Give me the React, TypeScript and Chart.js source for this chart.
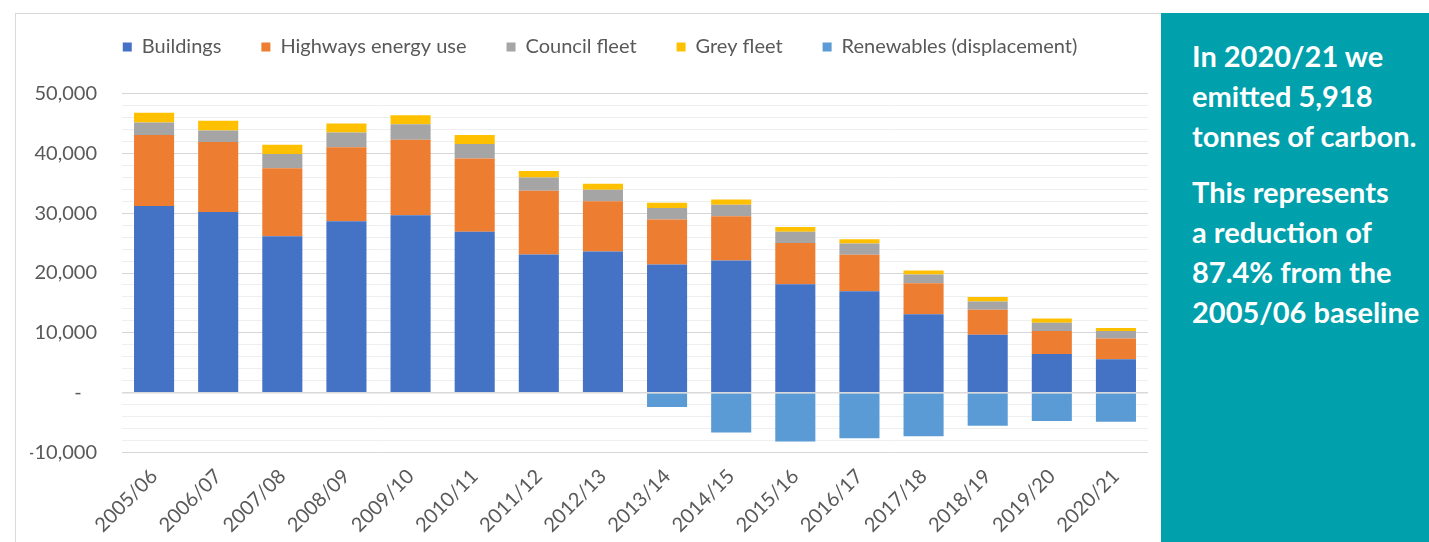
import React, { useEffect, useRef } from "react";
import { Chart, registerables } from "chart.js";

Chart.register(...registerables);

const categories = [
  "2005/06", "2006/07", "2007/08", "2008/09", "2009/10", "2010/11", "2011/12", "2012/13",
  "2013/14", "2014/15", "2015/16", "2016/17", "2017/18", "2018/19", "2019/20", "2020/21",
];
const buildings = [31200, 30200, 26150, 28650, 29650, 26900, 23100, 23600, 21400, 22100, 18100, 16950, 13100, 9700, 6450, 5600];
const highways = [11850, 11700, 11350, 12350, 12600, 12250, 10650, 8400, 7550, 7400, 6900, 6100, 5200, 4150, 3850, 3450];
const councilFleet = [2100, 1900, 2400, 2500, 2600, 2400, 2200, 1900, 1900, 1900, 1900, 1900, 1450, 1400, 1400, 1250];
const greyFleet = [1650, 1650, 1550, 1500, 1500, 1500, 1100, 1000, 900, 900, 800, 700, 650, 750, 700, 500];
const renewables = [0, 0, 0, 0, 0, 0, 0, 0, -2400, -6650, -8150, -7600, -7300, -5550, -4750, -4880];

const seriesNames = ["Buildings", "Highways energy use", "Council fleet", "Grey fleet", "Renewables (displacement)"];
const seriesColors = ["#4472C4", "#ED7D31", "#A5A5A5", "#FFC000", "#5B9BD5"];

const yMin = -10000;
const yMax = 50000;
const yStep = 2000;
const yLabelStep = 10000;

const panelParagraphs = [
  ["In 2020/21 we", "emitted 5,918", "tonnes of carbon."],
  ["This represents", "a reduction of", "87.4% from the", "2005/06 baseline"],
];

const LEGEND_HEIGHT = 96.5;
const LEGEND_SHIFT = 11;

const zeroLinePlugin = {
  id: "zeroLine",
  afterDatasetsDraw(chart: any) {
    const y = chart.scales.y.getPixelForValue(0);
    const { left, right } = chart.chartArea;
    const ctx = chart.ctx;
    ctx.save();
    ctx.strokeStyle = "#d9d9d9";
    ctx.lineWidth = 1.5;
    ctx.beginPath();
    ctx.moveTo(left, y);
    ctx.lineTo(right, y);
    ctx.stroke();
    ctx.restore();
  },
};

const legendPlacementPlugin = {
  id: "legendPlacement",
  beforeLayout(chart: any) {
    const lg = chart.legend;
    if (lg && !lg._patchedFit) {
      const orig = lg.fit;
      lg.fit = function () {
        orig.call(this);
        this.height = LEGEND_HEIGHT;
      };
      lg._patchedFit = true;
    }
  },
  afterLayout(chart: any) {
    const lg = chart.legend;
    if (lg) {
      lg.left += LEGEND_SHIFT;
      lg.right += LEGEND_SHIFT;
    }
  },
};

export default function App() {
  const canvasRef = useRef<HTMLCanvasElement | null>(null);

  useEffect(() => {
    if (!canvasRef.current) return;
    Chart.defaults.font.family = "Lato";
    const values = [buildings, highways, councilFleet, greyFleet, renewables];
    const chart = new Chart(canvasRef.current, {
      type: "bar",
      data: {
        labels: categories,
        datasets: values.map((d, i) => ({
          label: seriesNames[i],
          data: d,
          backgroundColor: seriesColors[i],
          borderWidth: 0,
          barPercentage: 0.625,
          categoryPercentage: 1,
        })),
      },
      options: {
        animation: false,
        responsive: true,
        maintainAspectRatio: false,
        layout: { padding: { top: -3, left: 30, right: 13, bottom: 0 } },
        plugins: {
          legend: {
            position: "top",
            labels: {
              boxWidth: 9,
              boxHeight: 9,
              padding: 40,
              color: "#595959",
              font: { size: 20, family: "Lato" },
            },
          },
          tooltip: { enabled: false },
        },
        scales: {
          x: {
            stacked: true,
            grid: { display: false, drawTicks: false },
            border: { display: false },
            ticks: {
              minRotation: 45,
              maxRotation: 45,
              autoSkip: false,
              padding: 12,
              color: "#595959",
              font: { size: 20, family: "Lato" },
            },
            afterFit(scale: any) {
              scale.height = 89.5;
            },
          },
          y: {
            stacked: true,
            min: yMin,
            max: yMax,
            grid: {
              drawTicks: false,
              lineWidth: 1,
              color: (ctx: any) =>
                ctx.tick && ctx.tick.value % yLabelStep === 0 ? "#d6d6d6" : "#eeeeee",
            },
            border: { display: false },
            ticks: {
              stepSize: yStep,
              autoSkip: false,
              padding: 25,
              color: "#595959",
              font: { size: 20, family: "Lato" },
              callback: (v: any) => {
                const n = Number(v);
                if (n % yLabelStep !== 0) return "";
                if (n === 0) return "-   ";
                return n.toLocaleString("en-US");
              },
            },
            afterFit(scale: any) {
              scale.width = 92;
            },
          },
        },
      },
      plugins: [zeroLinePlugin, legendPlacementPlugin],
    });
    return () => chart.destroy();
  }, []);

  return (
    <div style={{ position: "absolute", left: 0, top: 0, width: 1429, height: 542, background: "#ffffff", overflow: "hidden" }}>
      <div
        style={{
          position: "absolute",
          left: 15,
          top: 13,
          width: 1160,
          height: 560,
          borderTop: "1px solid #d9d9d9",
          borderLeft: "1px solid #d9d9d9",
          boxSizing: "border-box",
        }}
      />
      <div style={{ position: "absolute", left: 0, top: 0, width: 1161, height: 542 }}>
        <canvas ref={canvasRef} />
      </div>
      <div
        style={{
          position: "absolute",
          left: 1161,
          top: 13,
          width: 268,
          height: 529,
          background: "#00A0AC",
          color: "#ffffff",
          fontFamily: "Lato",
          fontWeight: 700,
          fontSize: 29,
          lineHeight: "40px",
          paddingLeft: 31,
          paddingTop: 23,
          boxSizing: "border-box",
        }}
      >
        {panelParagraphs.map((p, i) => (
          <div key={i} style={{ marginBottom: 16, whiteSpace: "nowrap" }}>
            {p.map((line, j) => (
              <div key={j}>{line}</div>
            ))}
          </div>
        ))}
      </div>
    </div>
  );
}
